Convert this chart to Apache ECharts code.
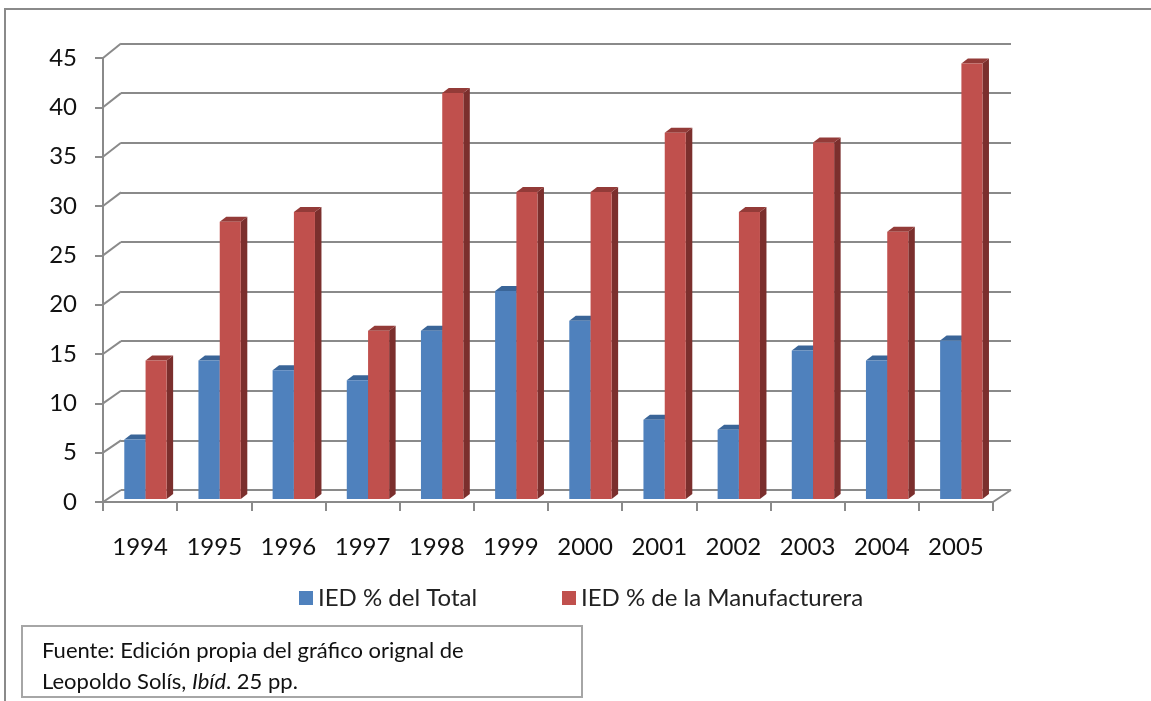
<!DOCTYPE html>
<html>
<head>
<meta charset="utf-8">
<script src="https://cdn.jsdelivr.net/npm/echarts@6/dist/echarts.min.js"></script>
<style>
  html, body { margin: 0; padding: 0; background: #fff; }
  #chart { width: 1151px; height: 701px; }
</style>
</head>
<body>
<div id="chart"></div>
<script>
/* datos */
var years = ['1994', '1995', '1996', '1997', '1998', '1999', '2000', '2001', '2002', '2003', '2004', '2005'];
var iedTotal = [6, 14, 13, 12, 17, 21, 18, 8, 7, 15, 14, 16];
var iedManuf = [14, 28, 29, 17, 41, 31, 31, 37, 29, 36, 27, 44];
var yTicks = [0, 5, 10, 15, 20, 25, 30, 35, 40, 45];
var nameTotal = 'IED % del Total';
var nameManuf = 'IED % de la Manufacturera';

var gridColor = '#8a8a8a';
var fontFam = 'Lato, "Open Sans", sans-serif';
var depthX = 6.5, depthY = -5;

/* barra 3d, offset y ancho como fraccion de la categoria */
function bar3d(offsetFrac, widthFrac, cFront, cTop, cSide) {
  return function (params, api) {
    var idx = api.value(0);
    var v = api.value(1);
    var base = api.coord([idx, 0]);
    var tip = api.coord([idx, v]);
    var bw = api.size([1, 0])[0];
    var x0 = base[0] - bw / 2 + bw * offsetFrac;
    var w = bw * widthFrac;
    var x1 = x0 + w;
    return {
      type: 'group',
      children: [
        { type: 'polygon', shape: { points: [[x1, base[1]], [x1 + depthX, base[1] + depthY], [x1 + depthX, tip[1] + depthY], [x1, tip[1]]] }, style: { fill: cSide } },
        { type: 'polygon', shape: { points: [[x0, tip[1]], [x0 + depthX, tip[1] + depthY], [x1 + depthX, tip[1] + depthY], [x1, tip[1]]] }, style: { fill: cTop } },
        { type: 'rect', shape: { x: x0, y: tip[1], width: w, height: base[1] - tip[1] }, style: { fill: cFront } }
      ]
    };
  };
}

/* diagonales de la pared izquierda y del piso */
function wallEdges(params, api) {
  var v = api.value(0);
  var side = api.value(1);
  var p = api.coord([side ? years.length - 1 : 0, v]);
  var bw = api.size([1, 0])[0];
  var xb = side ? p[0] + bw / 2 : p[0] - bw / 2;
  var dy = 12 + 2.5 * v / 45;
  return {
    type: 'line',
    shape: { x1: xb, y1: p[1], x2: xb - 18, y2: p[1] + dy },
    style: { stroke: gridColor, lineWidth: 2 }
  };
}

var edgeData = yTicks.map(function (t) { return [t, 0]; });
edgeData.push([0, 1]);

var option = {
  backgroundColor: '#fff',
  animation: false,
  textStyle: { fontFamily: fontFam },
  grid: [
    { left: 103, right: 158, top: 58, bottom: 199 },
    { left: 121, right: 140, top: 43.5, bottom: 211 },
    { left: 103, right: 158, top: 53.5, bottom: 202 }
  ],
  xAxis: [
    {
      gridIndex: 0, type: 'category', data: years, boundaryGap: true,
      axisLine: { show: true, lineStyle: { color: gridColor, width: 2 } },
      axisTick: { show: true, interval: 0, length: 9, lineStyle: { color: gridColor, width: 2 } },
      axisLabel: { interval: 0, margin: 33, fontSize: 24, color: '#111', fontFamily: fontFam }
    },
    { gridIndex: 1, type: 'category', data: years, show: false },
    { gridIndex: 2, type: 'category', data: years, show: false }
  ],
  yAxis: [
    {
      gridIndex: 0, type: 'value', min: 0, max: 45, interval: 5,
      axisLine: { show: true, lineStyle: { color: gridColor, width: 2 } },
      axisTick: { show: true, length: 8, lineStyle: { color: gridColor, width: 2 } },
      axisLabel: { margin: 26, fontSize: 24, color: '#111', fontFamily: fontFam },
      splitLine: { show: false }
    },
    {
      gridIndex: 1, type: 'value', min: 0, max: 45, interval: 5,
      axisLine: { show: false }, axisTick: { show: false }, axisLabel: { show: false },
      splitLine: { show: true, lineStyle: { color: gridColor, width: 2 } }
    },
    { gridIndex: 2, type: 'value', min: 0, max: 45, show: false, splitLine: { show: false } }
  ],
  legend: [
    {
      data: [nameTotal], left: 299, top: 586, padding: 0,
      icon: 'rect', itemWidth: 14, itemHeight: 14, itemGap: 6,
      textStyle: { fontSize: 24, color: '#222', fontFamily: fontFam }
    },
    {
      data: [nameManuf], left: 562, top: 586, padding: 0,
      icon: 'rect', itemWidth: 14, itemHeight: 14, itemGap: 6,
      textStyle: { fontSize: 24, color: '#222', fontFamily: fontFam }
    }
  ],
  graphic: [
    { type: 'rect', shape: { x: 5, y: 9, width: 1300, height: 900 }, style: { fill: 'none', stroke: '#8a8a8a', lineWidth: 2 }, z: -10 },
    { type: 'rect', shape: { x: 22, y: 626, width: 560, height: 71 }, style: { fill: '#fff', stroke: '#a6a6a6', lineWidth: 2 } },
    { type: 'text', left: 42, top: 640, style: { text: 'Fuente: Edición propia del gráfico orignal de', fontSize: 22, fill: '#111', fontFamily: fontFam } },
    {
      type: 'text', left: 42, top: 671,
      style: {
        text: '{n|Leopoldo Solís, }{i|Ibíd}{n|. 25 pp.}',
        rich: {
          n: { fontSize: 22, fill: '#111', fontFamily: fontFam },
          i: { fontSize: 22, fontStyle: 'italic', fill: '#111', fontFamily: fontFam }
        }
      }
    }
  ],
  series: [
    {
      type: 'custom', xAxisIndex: 1, yAxisIndex: 1, silent: true, z: 1,
      renderItem: wallEdges, data: edgeData
    },
    {
      name: nameTotal, type: 'custom', xAxisIndex: 2, yAxisIndex: 2, z: 3,
      itemStyle: { color: '#4f81bd' },
      renderItem: bar3d(0.287, 0.287, '#4f81bd', '#3a6598', '#385d8a'),
      data: iedTotal.map(function (v, i) { return [i, v]; })
    },
    {
      name: nameManuf, type: 'custom', xAxisIndex: 2, yAxisIndex: 2, z: 4,
      itemStyle: { color: '#c0504d' },
      renderItem: bar3d(0.574, 0.284, '#c0504d', '#933b38', '#7b2f2d'),
      data: iedManuf.map(function (v, i) { return [i, v]; })
    }
  ]
};

var chart = echarts.init(document.getElementById('chart'));
chart.setOption(option);
window.addEventListener('resize', function () {
  chart.resize();
});
</script>
</body>
</html>
